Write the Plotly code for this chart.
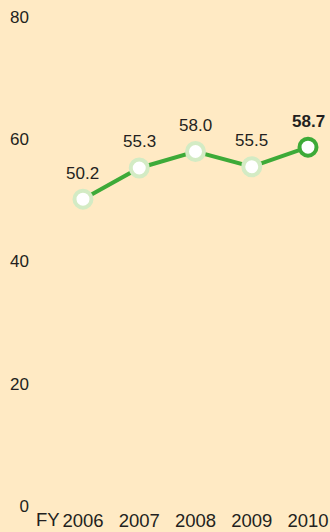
import plotly.graph_objects as go

years = ["2006", "2007", "2008", "2009", "2010"]
values = [50.2, 55.3, 58.0, 55.5, 58.7]
value_labels = ["50.2", "55.3", "58.0", "55.5", "58.7"]
y_ticks = [0, 20, 40, 60, 80]

BG = "#FFEAC4"
GREEN = "#3DAA38"
LIGHT = "#D3EBC4"
FONT = "Liberation Sans"
TXT = "#231F20"

xs = list(range(len(years)))
fig = go.Figure()
fig.add_trace(go.Scatter(
    x=xs, y=values, mode="lines+markers",
    line=dict(color=GREEN, width=4),
    marker=dict(size=17, color="white",
                line=dict(width=4, color=[LIGHT] * (len(years) - 1) + [GREEN])),
    hoverinfo="skip", showlegend=False,
))

for i, (v, t) in enumerate(zip(values, value_labels)):
    last = i == len(values) - 1
    fig.add_annotation(
        x=xs[i], y=v, text=f"<b>{t}</b>" if last else t,
        showarrow=False, yshift=26, xref="x", yref="y",
        font=dict(family=FONT, size=17, color=TXT),
    )

fig.add_annotation(
    x=0, y=0, xref="x", yref="paper", text="FY", showarrow=False,
    xanchor="right", yanchor="middle", xshift=-21, yshift=-13.5,
    font=dict(family=FONT, size=18.5, color=TXT),
)

fig.update_layout(
    width=330, height=532,
    margin=dict(l=35, r=0, t=16.5, b=26, pad=0),
    paper_bgcolor=BG, plot_bgcolor=BG,
    xaxis=dict(range=[-0.853, 4.391], tickmode="array", tickvals=xs, ticktext=years,
               showgrid=False, zeroline=False, showline=False,
               tickfont=dict(family=FONT, size=18.5, color=TXT), ticks="",
               ticklabelstandoff=1, fixedrange=True),
    yaxis=dict(range=[0, 80], tickmode="array", tickvals=y_ticks,
               ticktext=[str(v) for v in y_ticks],
               showgrid=False, zeroline=False, showline=False,
               tickfont=dict(family=FONT, size=17, color=TXT), ticks="",
               ticklabelstandoff=5, fixedrange=True),
)

fig.write_html("out.html")
